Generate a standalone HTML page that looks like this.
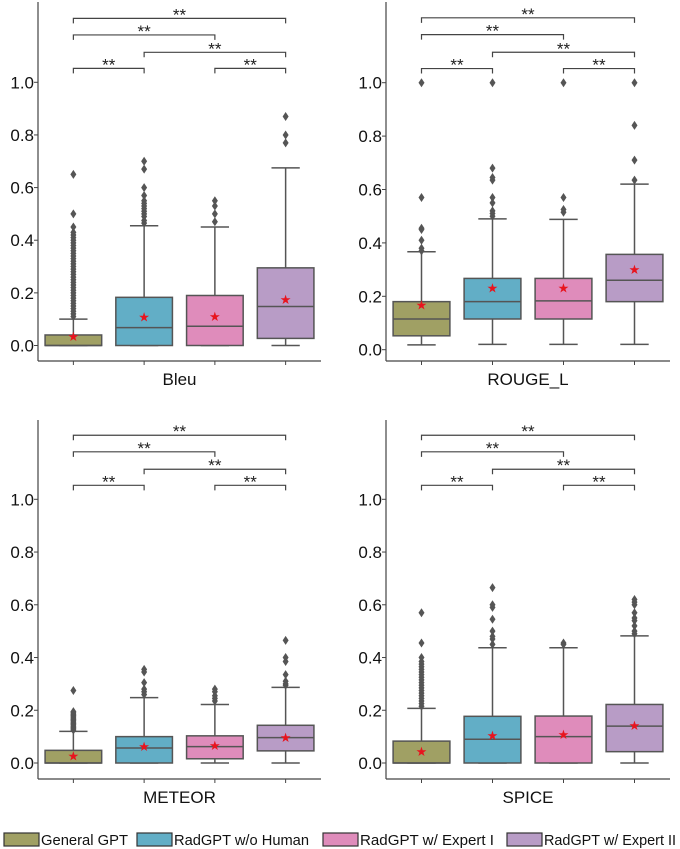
<!DOCTYPE html>
<html><head><meta charset="utf-8"><style>
html,body{margin:0;padding:0;background:#fff;}
svg{display:block;font-family:"Liberation Sans",sans-serif;}
</style></head><body>
<svg id="chart" width="680" height="849" viewBox="0 0 680 849" xmlns="http://www.w3.org/2000/svg"></svg>
<script>
const groups = ["General GPT","RadGPT w/o Human","RadGPT w/ Expert I","RadGPT w/ Expert II"];
const colors = ["#a0a064","#62aec6","#df8cbb","#b89cc6"];
const metrics = ["Bleu","ROUGE_L","METEOR","SPICE"];
const yTicks = [0.0,0.2,0.4,0.6,0.8,1.0];
// [whiskerLow, q1, median, q3, whiskerHigh, mean]
const bleuStats = [[0,0,0,0.04,0.10,0.037],[0,0,0.068,0.183,0.455,0.11],[0,0,0.073,0.19,0.45,0.112],[0,0.027,0.148,0.295,0.675,0.176]];
const rougeStats = [[0.018,0.052,0.115,0.18,0.367,0.17],[0.02,0.115,0.18,0.267,0.49,0.233],[0.02,0.115,0.183,0.267,0.488,0.233],[0.02,0.18,0.26,0.357,0.62,0.302]];
const meteorStats = [[0,0,0,0.048,0.12,0.028],[0,0,0.057,0.10,0.248,0.065],[0,0.016,0.062,0.103,0.222,0.068],[0,0.046,0.096,0.143,0.287,0.099]];
const spiceStats = [[0,0,0,0.083,0.207,0.046],[0,0,0.09,0.177,0.437,0.106],[0,0,0.10,0.178,0.437,0.11],[0,0.043,0.14,0.222,0.482,0.145]];
const bleuOut = [[0.11,0.12,0.13,0.14,0.15,0.16,0.17,0.18,0.19,0.20,0.21,0.22,0.23,0.24,0.25,0.26,0.27,0.28,0.29,0.30,0.31,0.32,0.33,0.34,0.35,0.36,0.37,0.38,0.39,0.40,0.41,0.42,0.43,0.45,0.50,0.65],[0.465,0.475,0.49,0.50,0.51,0.52,0.53,0.54,0.55,0.57,0.60,0.67,0.70],[0.47,0.50,0.53,0.55],[0.77,0.80,0.87]];
const rougeOut = [[0.37,0.38,0.41,0.45,0.455,0.57,1.0],[0.50,0.51,0.52,0.55,0.57,0.635,0.645,0.68,1.0],[0.515,0.525,0.57,1.0],[0.635,0.71,0.84,1.0]];
const meteorOut = [[0.125,0.13,0.135,0.14,0.145,0.15,0.155,0.16,0.165,0.17,0.175,0.18,0.185,0.19,0.195,0.275],[0.26,0.27,0.28,0.305,0.345,0.355],[0.235,0.245,0.255,0.27,0.28],[0.295,0.30,0.31,0.335,0.385,0.40,0.465]];
const spiceOut = [[0.215,0.225,0.235,0.245,0.255,0.265,0.275,0.285,0.295,0.305,0.315,0.325,0.335,0.345,0.355,0.365,0.375,0.385,0.40,0.455,0.57],[0.45,0.47,0.48,0.50,0.545,0.59,0.60,0.665],[0.45,0.455],[0.49,0.50,0.52,0.54,0.55,0.57,0.60,0.61,0.62]];
const bracketPairs = [[0,1],[2,3],[1,3],[0,2],[0,3]];
const bracketLevels = [1.053,1.053,1.114,1.18,1.243];
const allStats=[bleuStats,rougeStats,meteorStats,spiceStats];
const allOut=[bleuOut,rougeOut,meteorOut,spiceOut];
const panels=[
 {ax:38,ax2:321,top:2,xb:361,y0:345.5,y1:82.3},
 {ax:386,ax2:670,top:2,xb:361,y0:349.7,y1:82.7},
 {ax:38,ax2:321,top:420,xb:779,y0:763,y1:499.3},
 {ax:386,ax2:670,top:420,xb:779,y0:763,y1:499.3}];
const NS="http://www.w3.org/2000/svg";
const svg=document.getElementById('chart');
function mk(tag,attrs,parent,txt){const e=document.createElementNS(NS,tag);for(const k in attrs)e.setAttribute(k,attrs[k]);if(txt!==undefined)e.textContent=txt;(parent||svg).appendChild(e);return e;}
const edge="#555";
panels.forEach((p,pi)=>{
  const g=mk('g',{});
  
  
  const Y=v=>p.y0+(p.y1-p.y0)*v;
  const step=(p.ax2-p.ax)/4;
  const X=i=>p.ax+step*(i+0.5);
  const bw=step*0.8;
  const ya=mk('line',{x1:p.ax,y1:p.top,x2:p.ax,y2:p.xb,stroke:"#444","stroke-width":1.2},g);
  
  
  const xa=mk('line',{x1:p.ax,y1:p.xb,x2:p.ax2,y2:p.xb,stroke:"#444","stroke-width":1.2},g);
  
  
  yTicks.forEach(t=>{
    mk('line',{x1:p.ax-4,y1:Y(t),x2:p.ax,y2:Y(t),stroke:"#444"},g);
    const tl=mk('text',{x:p.ax-4,y:Y(t)+6,"text-anchor":"end","font-size":17,fill:"#111"},g,t.toFixed(1));
    
    
  });
  for(let i=0;i<4;i++) mk('line',{x1:X(i),y1:p.xb,x2:X(i),y2:p.xb+4,stroke:"#444"},g);
  const al=mk('text',{x:(p.ax+p.ax2)/2,y:p.xb+24,"text-anchor":"middle","font-size":17,fill:"#111"},g,metrics[pi]);
  
  
  allStats[pi].forEach((s,i)=>{
    const [lo,q1,md,q3,hi,mn]=s;const cx=X(i);
    const bg=mk('g',{},g);
    
    
    mk('line',{x1:cx,y1:Y(q3),x2:cx,y2:Y(hi),stroke:edge,"stroke-width":1.5},bg);
    mk('line',{x1:cx,y1:Y(q1),x2:cx,y2:Y(lo),stroke:edge,"stroke-width":1.5},bg);
    mk('line',{x1:cx-bw/4,y1:Y(hi),x2:cx+bw/4,y2:Y(hi),stroke:edge,"stroke-width":1.5},bg);
    mk('line',{x1:cx-bw/4,y1:Y(lo),x2:cx+bw/4,y2:Y(lo),stroke:edge,"stroke-width":1.5},bg);
    mk('rect',{x:cx-bw/2,y:Y(q3),width:bw,height:Math.max(0.5,Y(q1)-Y(q3)),fill:colors[i],stroke:edge,"stroke-width":1.5},bg);
    mk('line',{x1:cx-bw/2,y1:Y(md),x2:cx+bw/2,y2:Y(md),stroke:edge,"stroke-width":1.5},bg);
    allOut[pi][i].forEach(v=>{const y=Y(v);
      mk('path',{d:`M${cx},${y-4.5}L${cx+3},${y}L${cx},${y+4.5}L${cx-3},${y}Z`,fill:edge},bg);});
    const m=mk('text',{x:cx,y:Y(mn)+5,"text-anchor":"middle","font-size":13,fill:"#e8141e"},bg,"★");
    
    
  });
  bracketPairs.forEach((bp,k)=>{
    const y=Y(bracketLevels[k]);const a=X(bp[0]),b=X(bp[1]);
    const bk=mk('g',{},g);
    
    
    mk('path',{d:`M${a},${y+5}V${y}H${b}V${y+5}`,fill:"none",stroke:"#444","stroke-width":1.2},bk);
    mk('text',{x:(a+b)/2,y:y+2,"text-anchor":"middle","font-size":17,fill:"#222"},bk,"**");
  });
});
const legX=[4,137,323,507];
groups.forEach((name,i)=>{
  const lg=mk('g',{});
  
  
  mk('rect',{x:legX[i],y:833,width:35,height:13,fill:colors[i],stroke:"#333","stroke-width":1.2},lg);
  mk('text',{x:legX[i]+37,y:845,"font-size":15,fill:"#111",textLength:(i==0?87:i==1?135:i==2?134:132),lengthAdjust:"spacingAndGlyphs"},lg,name);
});
</script>
</body></html>
